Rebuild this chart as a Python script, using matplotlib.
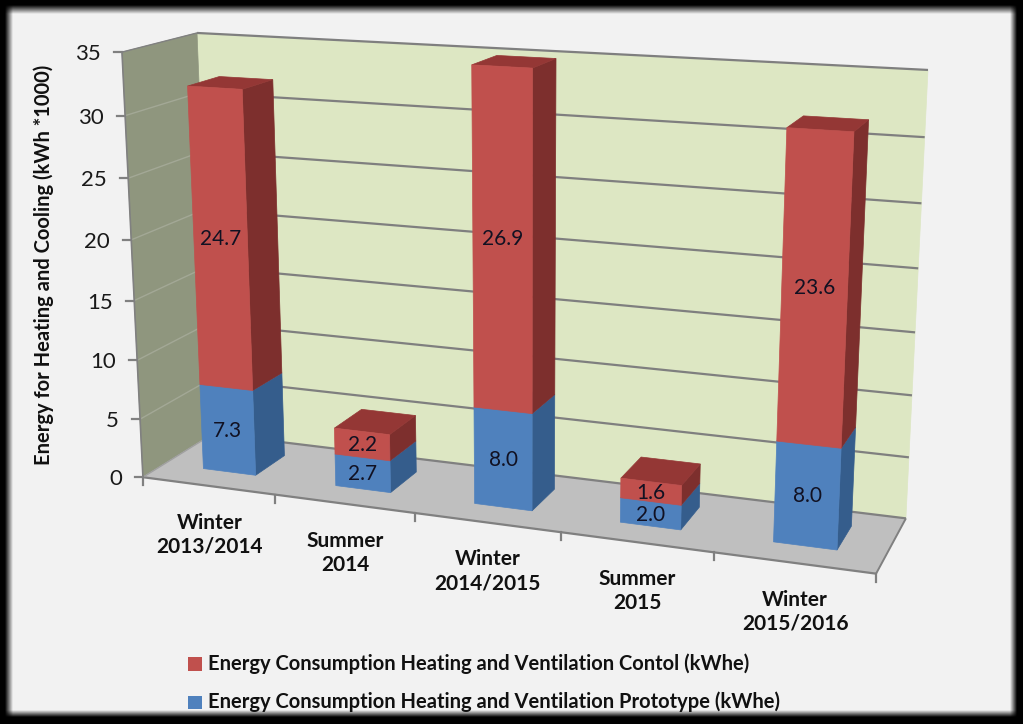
#!/usr/bin/env python3
import numpy as np
import matplotlib
matplotlib.use('Agg')
import matplotlib.pyplot as plt
from matplotlib.patches import Polygon, Rectangle

categories = ['Winter\n2013/2014', 'Summer\n2014', 'Winter\n2014/2015', 'Summer\n2015', 'Winter\n2015/2016']
prototype = [7.3, 2.7, 8.0, 2.0, 8.0]
control = [24.7, 2.2, 26.9, 1.6, 23.6]
y_ticks = [0, 5, 10, 15, 20, 25, 30, 35]
y_label = 'Energy for Heating and Cooling (kWh *1000)'
legend_control = 'Energy Consumption Heating and Ventilation Contol (kWhe)'
legend_prototype = 'Energy Consumption Heating and Ventilation Prototype (kWhe)'

W, H = 1023, 724
Y_MAX = 35
N = len(categories)

# chart box corners (category pos, value, depth) -> where they sit in the picture
box_3d = [(0, 0, 0), (0, Y_MAX, 0), (0, 0, 1), (0, Y_MAX, 1), (N, Y_MAX, 1), (N, 0, 1), (N, 0, 0)]
box_px = [(143, 477), (122, 52), (213, 434), (197, 33), (928, 70), (906, 518), (876, 574)]


def fit_camera():
    rows, rhs = [], []
    for (a, b, c), (px, py) in zip(box_3d, box_px):
        rows.append([a, b, c, 1, 0, 0, 0, 0, -px * a, -px * b, -px * c])
        rhs.append(px)
        rows.append([0, 0, 0, 0, a, b, c, 1, -py * a, -py * b, -py * c])
        rhs.append(py)
    sol = np.linalg.lstsq(np.array(rows, float), np.array(rhs, float), rcond=None)[0]
    return np.append(sol, 1.0).reshape(3, 4)


CAM = fit_camera()


def proj(u, v, d):
    p = CAM @ np.array([u, v, d, 1.0])
    return p[0] / p[2], p[1] / p[2]


def face(ax, pts, color, z=2):
    ax.add_patch(Polygon([proj(*p) for p in pts], closed=True, facecolor=color,
                         edgecolor=color, linewidth=0.5, zorder=z))


def segment(ax, a, b, color='#808080', lw=1.6, z=2):
    pa, pb = proj(*a), proj(*b)
    ax.plot([pa[0], pb[0]], [pa[1], pb[1]], color=color, lw=lw, zorder=z, solid_capstyle='butt')


def draw_block(ax, u0, u1, d0, d1, v0, v1, front, side, top):
    face(ax, [(u1, v0, d0), (u1, v0, d1), (u1, v1, d1), (u1, v1, d0)], side, 4)
    face(ax, [(u0, v1, d0), (u1, v1, d0), (u1, v1, d1), (u0, v1, d1)], top, 4)
    face(ax, [(u0, v0, d0), (u1, v0, d0), (u1, v1, d0), (u0, v1, d0)], front, 4)


def frame_image():
    # grey panel fading into the black frame
    xs = np.arange(W) + 0.5
    ys = np.arange(H) + 0.5
    fx = np.clip((xs - 5) / 8, 0, 1) * np.clip((1017 - xs) / 7, 0, 1)
    fy = np.clip((ys - 5) / 9, 0, 1) * np.clip((717 - ys) / 7, 0, 1)
    return np.outer(fy, fx) * 0.949


fig = plt.figure(figsize=(W / 100, H / 100), dpi=100)
ax = fig.add_axes([0, 0, 1, 1])
ax.imshow(frame_image(), cmap='gray', vmin=0, vmax=1, extent=(0, W, H, 0), zorder=0)
ax.set_xlim(0, W)
ax.set_ylim(H, 0)
ax.axis('off')

plt.rcParams['font.family'] = ['Lato', 'DejaVu Sans']

# walls and floor
face(ax, [(0, 0, 1), (N, 0, 1), (N, Y_MAX, 1), (0, Y_MAX, 1)], '#dde7c3', 1)
face(ax, [(0, 0, 0), (0, 0, 1), (0, Y_MAX, 1), (0, Y_MAX, 0)], '#8f967e', 1)
face(ax, [(0, 0, 0), (N, 0, 0), (N, 0, 1), (0, 0, 1)], '#bfbfbf', 1)

# gridlines and axis lines
for t in y_ticks:
    if t > 0:
        segment(ax, (0, t, 1), (N, t, 1), '#7f7f7f', 1.6)
        segment(ax, (0, t, 0), (0, t, 1), '#a3a896' if t < Y_MAX else '#808080', 1.0)
    x, y = proj(0, t, 0)
    ax.plot([x - 8, x], [y, y], color='#808080', lw=1.6, zorder=2)
    ax.text(x - 21, y + 2, str(t), ha='right', va='center', fontsize=16, color='#1a1a1a')
segment(ax, (0, 0, 1), (N, 0, 1), '#808080', 1.6)
segment(ax, (0, 0, 0), (N, 0, 0), '#808080', 1.6)
segment(ax, (N, 0, 0), (N, 0, 1), '#808080', 1.4)
segment(ax, (0, 0, 0), (0, 0, 1), '#a0a0a0', 1.0)
segment(ax, (0, 0, 0), (0, Y_MAX, 0), '#808080', 1.2)
for i in range(N + 1):
    x, y = proj(i, 0, 0)
    ax.plot([x, x], [y, y + 8], color='#808080', lw=1.6, zorder=2)

# bars, left half width and depth span in category units
half = 0.2
d0, d1 = 0.3, 0.74
for i in range(N):
    u0, u1 = i + 0.5 - half, i + 0.5 + half
    low, high = prototype[i], prototype[i] + control[i]
    draw_block(ax, u0, u1, d0, d1, 0, low, '#4f81bd', '#355d8c', '#4f81bd')
    draw_block(ax, u0, u1, d0, d1, low, high, '#c0504d', '#7d2f2d', '#943735')
    for a, b, val in ((0, low, prototype[i]), (low, high, control[i])):
        corners = [proj(u0, a, d0), proj(u1, a, d0), proj(u1, b, d0), proj(u0, b, d0)]
        cx, cy = np.mean(corners, axis=0)
        ax.text(cx, cy + 1, f'{val:.1f}', ha='center', va='center', fontsize=15,
                color='#111122', zorder=6)
    x, y = proj(i + 0.5, 0, 0)
    ax.text(x + 1, y + 49, categories[i], ha='center', va='center', fontsize=15,
            fontweight='bold', linespacing=1.25, color='#111111', zorder=6)

ax.text(44, 265, y_label, rotation=90, ha='center', va='center', fontsize=14.5,
        fontweight='bold', color='#111111')

# legend
ax.add_patch(Rectangle((188, 657), 14, 14, facecolor='#c0504d', edgecolor='none', zorder=6))
ax.add_patch(Rectangle((188, 696), 14, 13, facecolor='#4f81bd', edgecolor='none', zorder=6))
ax.text(208, 664, legend_control, ha='left', va='center', fontsize=14.5, fontweight='bold', color='#111111')
ax.text(208, 702, legend_prototype, ha='left', va='center', fontsize=14.5, fontweight='bold', color='#111111')

fig.savefig('out.png', dpi=100)
plt.close(fig)
